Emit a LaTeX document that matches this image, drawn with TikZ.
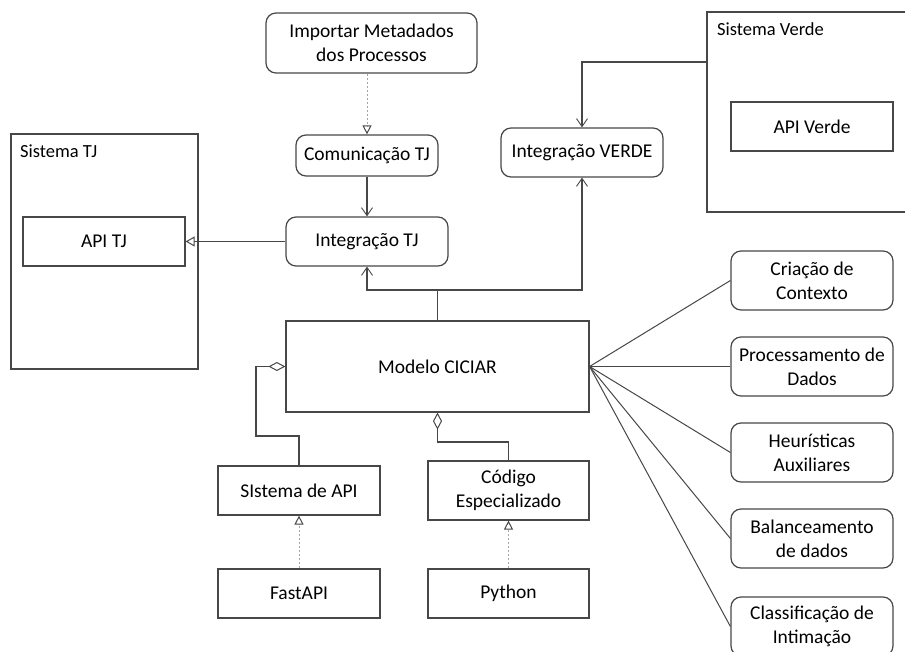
\documentclass[tikz,border=0pt]{standalone}
\usepackage{fontspec}
\setmainfont{Carlito}
\usetikzlibrary{arrows.meta}

\tikzset{
  ink/.style={draw=black!72, line width=1.2pt},
  box/.style={ink, rectangle, inner sep=0pt, align=center,
    font=\fontsize{19.5}{24}\selectfont},
  rbox/.style={box, rounded corners=10pt},
  frame/.style={ink},
  framelabel/.style={anchor=base west, inner sep=0pt,
    font=\fontsize{18.5}{22}\selectfont},
  link/.style={draw=black!72, line width=1.1pt},
  flow/.style={link, -{Straight Barb[length=8pt,width=11pt,line width=0.9pt]}},
  realize/.style={draw=black!35, line width=0.9pt, dash pattern=on 2.2pt off 1.8pt,
    -{Triangle[open,length=9pt,width=9pt,color=black!72,line width=1pt]}},
  assoc/.style={link, -{Triangle[open,length=9pt,width=10pt,line width=1pt]}},
  aggr/.style={link, {Diamond[open,length=17pt,width=9pt,line width=1pt]}-},
  spoke/.style={draw=black!72, line width=1pt},
}

\begin{document}
\begin{tikzpicture}[x=1pt, y=-1pt]
  \path[use as bounding box, clip] (0,0) rectangle (905,652);
  \fill[white] (0,0) rectangle (905,652);

  % container frames
  \draw[frame] (11,134) rectangle (198,369);
  \node[framelabel] (lbltj) at (20,158) {Sistema TJ};
  \draw[frame] (920,12) -- (707,12) -- (707,212) -- (920,212);
  \node[framelabel] (lblverde) at (717,36) {Sistema Verde};
  \coordinate (verdeport) at (707,62);

  % nodes
  \node[rbox, minimum width=211pt, minimum height=60pt] (imp) at (371.5,43)
    {Importar Metadados\\dos Processos};
  \node[rbox, minimum width=142pt, minimum height=41pt] (com) at (367,155.5)
    {Comunica\c{c}\~ao TJ};
  \node[rbox, minimum width=162pt, minimum height=49pt] (itj) at (367,241.5)
    {Integra\c{c}\~ao TJ};
  \node[box, minimum width=162pt, minimum height=49pt] (apitj) at (104,241.5)
    {API TJ};
  \node[box, minimum width=162pt, minimum height=49pt] (apiv) at (812,126.5)
    {API Verde};
  \node[rbox, minimum width=162pt, minimum height=49pt] (iverde) at (582,152.5)
    {Integra\c{c}\~ao VERDE};
  \node[box, minimum width=303pt, minimum height=91pt] (modelo) at (437.5,366.5)
    {Modelo CICIAR};
  \node[box, minimum width=162pt, minimum height=49pt] (sapi) at (299,490.5)
    {SIstema de API};
  \node[box, minimum width=162pt, minimum height=49pt] (fast) at (299,593.5)
    {FastAPI};
  \node[box, minimum width=161pt, minimum height=59pt] (cod) at (508.5,490.5)
    {C\'odigo\\Especializado};
  \node[box, minimum width=161pt, minimum height=49pt] (py) at (508.5,593.5)
    {Python};

  \node[rbox, minimum width=162pt, minimum height=59pt] (ctx) at (812,280.5)
    {Cria\c{c}\~ao de\\Contexto};
  \node[rbox, minimum width=162pt, minimum height=59pt] (proc) at (812,366.5)
    {Processamento de\\Dados};
  \node[rbox, minimum width=162pt, minimum height=59pt] (heur) at (812,452.5)
    {Heur\'isticas\\Auxiliares};
  \node[rbox, minimum width=162pt, minimum height=59pt] (bal) at (812,538.5)
    {Balanceamento\\de dados};
  \node[rbox, minimum width=162pt, minimum height=59pt] (cls) at (812,626.5)
    {Classifica\c{c}\~ao de\\Intima\c{c}\~ao};

  % connectors
  \draw[realize] (com.north |- imp.south) -- (com.north);
  \draw[flow] (com.south) -- (itj.north);
  \draw[assoc] (itj.west) -- (apitj.east);
  \draw[flow] (verdeport) -| (iverde.north);

  \coordinate (hub) at (437.5,290);
  \draw[link] (modelo.north) -- (hub);
  \draw[flow] (hub) -| (itj.south);
  \draw[flow] (hub) -| (iverde.south);

  \coordinate (bendA) at (256,436);
  \draw[aggr] (modelo.west) -| (bendA) -| (sapi.north);
  \coordinate (bendB) at (437.5,442);
  \draw[aggr] (modelo.south) -- (bendB) -| (cod.north);

  \draw[realize] (fast.north) -- (sapi.south);
  \draw[realize] (py.north) -- (cod.south);

  \foreach \t in {ctx,proc,heur,bal,cls}
    \draw[spoke] (modelo.east) -- (\t.west);
\end{tikzpicture}
\end{document}
